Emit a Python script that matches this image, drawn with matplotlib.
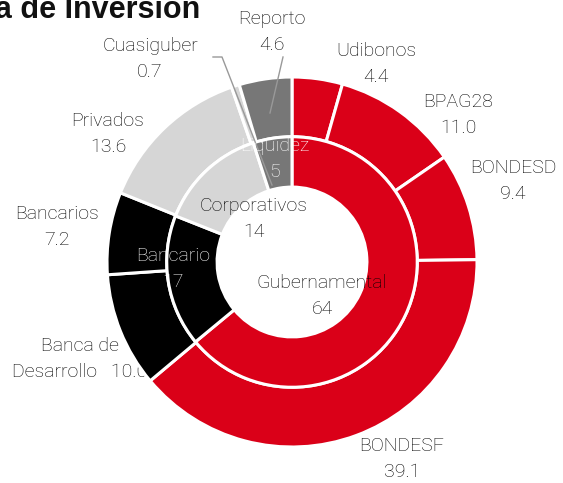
import matplotlib
matplotlib.use("Agg")
import matplotlib.pyplot as plt

# Portfolio composition (percent)
inner_labels = ["Gubernamental", "Bancario", "Corporativos", "Liquidez"]
inner_values = [64, 17, 14, 5]

outer_labels = ["Udibonos", "BPAG28", "BONDESD", "BONDESF", "Banca de\nDesarrollo",
                "Bancarios", "Privados", "Cuasiguber", "Reporto"]
outer_values = [4.4, 11.0, 9.4, 39.1, 10.0, 7.2, 13.6, 0.7, 4.6]

RED, BLACK, LIGHT, DARK = "#da0018", "#000000", "#d6d6d6", "#777777"
inner_colors = [RED, BLACK, LIGHT, DARK]
outer_colors = [RED, RED, RED, RED, BLACK, BLACK, LIGHT, LIGHT, DARK]

W, H = 563, 483
CX, CY, SCALE = 292, 262, 185  # pie centre (px from top-left) and px per unit radius


def px(x, y):
    return ((x - CX) / SCALE, (CY - y) / SCALE)


plt.rcParams["font.family"] = ["Roboto", "DejaVu Sans"]
fig = plt.figure(figsize=(W / 100, H / 100), dpi=100)
ax = fig.add_axes([0, 0, 1, 1])
ax.axis("off")

R_OUT, R_MID, R_IN = 1.0, 0.677, 0.405
edge = dict(edgecolor="white", linewidth=2.2)

ax.pie(outer_values, radius=R_OUT, colors=outer_colors, startangle=90,
       counterclock=False, wedgeprops=dict(width=R_OUT - R_MID, zorder=2, **edge))
ax.pie(inner_values, radius=R_MID, colors=inner_colors, startangle=90,
       counterclock=False, wedgeprops=dict(width=R_MID - R_IN, zorder=2, **edge))
ax.set_xlim(-CX / SCALE, (W - CX) / SCALE)
ax.set_ylim(-(H - CY) / SCALE, CY / SCALE)
ax.set_aspect("auto")

txt = dict(fontsize=14, fontweight="light", color="#000000",
           ha="center", va="center", linespacing=1.55)

# outer ring labels
outer_pos = [(376, 64), (458, 115), (513, 181), (402, 459), (80, 359),
             (57, 227), (108, 134), (150, 59), (272, 32)]
for name, val, (x, y) in zip(outer_labels, outer_values, outer_pos):
    if name.startswith("Banca de"):
        s = f"Banca de\nDesarrollo   {val:.1f}"
    else:
        s = f"{name}\n{val:.1f}"
    ax.text(*px(x, y), s, zorder=1, **txt)

# leader lines
ax.plot(*zip(px(283, 57), px(270, 113)), color="#999999", lw=1, zorder=3)
ax.plot(*zip(px(213, 57), px(222, 57), px(272, 185)), color="#999999", lw=1, zorder=3)

# inner ring labels
inner_pos = [(322, 296), (173, 269), (254, 219), (275, 159)]
inner_text_colors = ["#000000", "white", "#000000", "white"]
for name, val, (x, y), c in zip(inner_labels, inner_values, inner_pos, inner_text_colors):
    d = dict(txt)
    d["color"] = c
    ax.text(*px(x, y), f"{name}\n{val}", zorder=4, **d)

# title (runs off the top edge)
fig.text(200 / W, 1 - 18 / H, "Cartera de Inversión", ha="right", va="baseline",
         fontsize=22, fontweight="bold", color="#111111",
         family=["Liberation Sans", "DejaVu Sans"])

fig.savefig("out.png", dpi=100)
